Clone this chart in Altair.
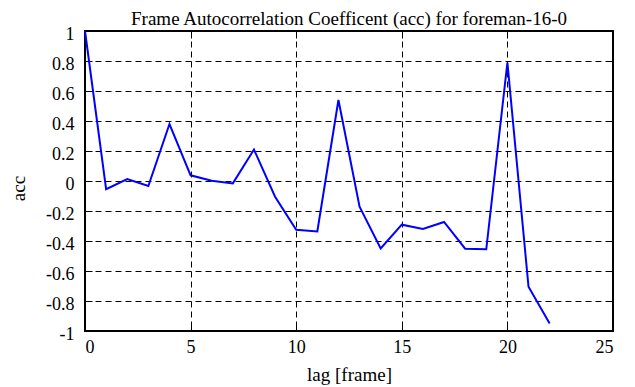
import altair as alt
import pandas as pd

lags = list(range(23))
acc = [1.0, -0.055, 0.013, -0.033, 0.38, 0.038, 0.002, -0.016, 0.21, -0.105,
       -0.325, -0.336, 0.54, -0.171, -0.45, -0.291, -0.32, -0.273, -0.451, -0.455,
       0.79, -0.705, -0.95]
x_ticks = [0, 5, 10, 15, 20, 25]
y_ticks = [-1, -0.8, -0.6, -0.4, -0.2, 0, 0.2, 0.4, 0.6, 0.8, 1]
title_text = "Frame Autocorrelation Coefficent (acc) for foreman-16-0"

df = pd.DataFrame({"lag": lags, "acc": acc})

W, H = 528, 300
FONT = "Liberation Serif"
xs = alt.Scale(domain=[0, 25], nice=False, zero=False)
ys = alt.Scale(domain=[-1, 1], nice=False, zero=False)

label_expr = "'' + datum.value"

main = alt.Chart(df).mark_line(color="#0000ff", strokeWidth=2).encode(
    x=alt.X("lag:Q", scale=xs, axis=alt.Axis(
        values=x_ticks, title="lag [frame]", grid=True, gridDash=[6, 4],
        gridColor="black", gridWidth=1, gridOpacity=1, ticks=False, domain=False,
        labelFont=FONT, labelFontSize=18, labelColor="black", labelPadding=7,
        labelExpr=label_expr,
        titleFont=FONT, titleFontSize=19, titleFontWeight="normal",
        titleColor="black", titlePadding=9)),
    y=alt.Y("acc:Q", scale=ys, axis=alt.Axis(
        values=y_ticks, title="acc", grid=True, gridDash=[6, 4],
        gridColor="black", gridWidth=1, gridOpacity=1, ticks=False, domain=False,
        labelFont=FONT, labelFontSize=18, labelColor="black", labelPadding=11,
        labelOffset=3, labelExpr=label_expr,
        titleFont=FONT, titleFontSize=19, titleFontWeight="normal",
        titleColor="black", titlePadding=17, titleY=157)),
)

tick_style = dict(labels=False, title=None, grid=False, domain=False, ticks=True,
                  tickSize=7, tickColor="black", tickWidth=1)

ticks_a = alt.Chart(df).mark_line(opacity=0).encode(
    x=alt.X("lag:Q", scale=xs, axis=alt.Axis(orient="top", offset=-H, values=x_ticks, **tick_style)),
    y=alt.Y("acc:Q", scale=ys, axis=alt.Axis(orient="right", offset=-W, values=y_ticks, **tick_style)),
)
ticks_b = alt.Chart(df).mark_line(opacity=0).encode(
    x=alt.X("lag:Q", scale=xs, axis=alt.Axis(orient="bottom", offset=-H, values=x_ticks, **tick_style)),
    y=alt.Y("acc:Q", scale=ys, axis=alt.Axis(orient="left", offset=-W, values=y_ticks, **tick_style)),
)

chart = alt.layer(main, ticks_a, ticks_b).resolve_axis(
    x="independent", y="independent"
).properties(
    width=W, height=H,
    title=alt.TitleParams(title_text, font=FONT, fontSize=19, fontWeight="normal",
                          color="black", anchor="middle", offset=-4),
    autosize=alt.AutoSizeParams(type="none"),
    padding={"left": 77, "top": 23, "right": 14, "bottom": 56},
    background="white",
).configure_view(stroke="black", strokeWidth=2)

chart.save("out.html", embed_options={"renderer": "svg", "actions": False})
